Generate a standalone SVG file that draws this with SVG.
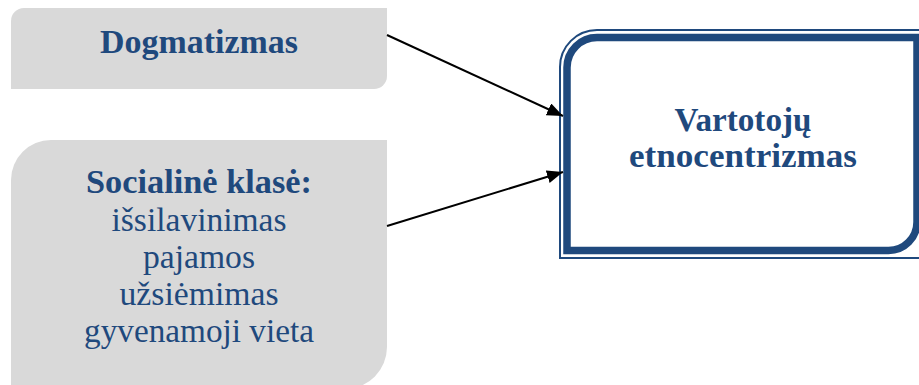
<svg xmlns="http://www.w3.org/2000/svg" width="919" height="385" viewBox="0 0 919 385">
<style>
.box{fill:#d9d9d9;}
.t{font-family:"Liberation Serif","DejaVu Serif",serif;fill:#1f497d;text-anchor:middle;font-size:33px;}
.b{font-weight:bold;}
.conn{stroke:#000;stroke-width:2;fill:none;}
</style>
<defs>
<marker id="ah" markerUnits="userSpaceOnUse" markerWidth="18" markerHeight="14" refX="16" refY="6.5" orient="auto">
<path d="M0,0 L16,6.5 L0,13 Z" fill="#000"/>
</marker>
</defs>
<rect width="919" height="385" fill="#fff"/>
<g id="node-dogmatizmas">
<path class="box" d="M11,89 V21 A13,13 0 0 1 24,8 H387 V76 A13,13 0 0 1 374,89 Z"/>
<text class="t b" x="199" y="53" textLength="198" lengthAdjust="spacingAndGlyphs">Dogmatizmas</text>
</g>
<g id="node-socialine">
<path class="box" d="M11,389 V180 A40,40 0 0 1 51,140 H387 V347 A42,42 0 0 1 345,389 Z"/>
<text class="t b" x="199" y="193" textLength="226" lengthAdjust="spacingAndGlyphs">Socialinė klasė:</text>
<text class="t" x="199" y="231" textLength="175" lengthAdjust="spacingAndGlyphs">išsilavinimas</text>
<text class="t" x="199" y="268" textLength="112" lengthAdjust="spacingAndGlyphs">pajamos</text>
<text class="t" x="199" y="305" textLength="159" lengthAdjust="spacingAndGlyphs">užsiėmimas</text>
<text class="t" x="199" y="342" textLength="230" lengthAdjust="spacingAndGlyphs">gyvenamoji vieta</text>
</g>
<g id="node-vartotoju">
<path d="M560,258 V67 A37,37 0 0 1 597,30 H930 V258 Z" fill="#fff" stroke="#1f497d" stroke-width="2"/>
<path d="M567,250.5 V67.5 A30,30 0 0 1 597,37.5 H917 V222 A28.5,28.5 0 0 1 888.5,250.5 Z" fill="#fff" stroke="#1f497d" stroke-width="7.5"/>
<text class="t b" x="743" y="131" textLength="137" lengthAdjust="spacingAndGlyphs">Vartotojų</text>
<text class="t b" x="743" y="167" textLength="228" lengthAdjust="spacingAndGlyphs">etnocentrizmas</text>
</g>
<g id="connectors">
<line class="conn" x1="387" y1="35" x2="563" y2="116" marker-end="url(#ah)"/>
<line class="conn" x1="387" y1="226" x2="563" y2="172" marker-end="url(#ah)"/>
</g>
</svg>
